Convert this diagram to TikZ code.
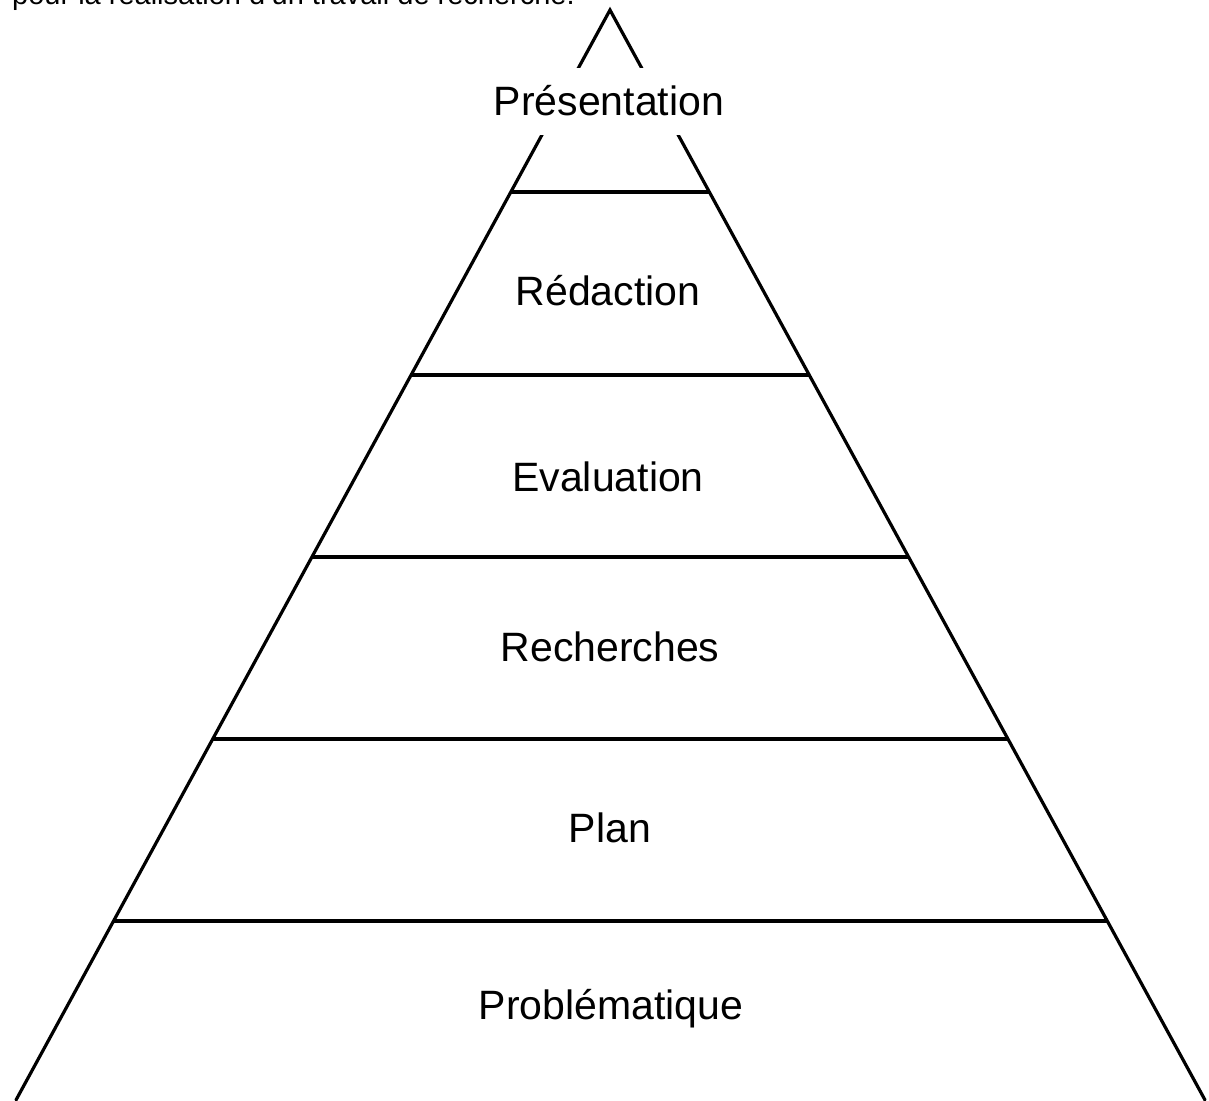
\documentclass[tikz,border=0pt]{standalone}
\usepackage{fontspec}
\setmainfont{Liberation Sans}
\usetikzlibrary{calc}
\begin{document}
\begin{tikzpicture}[x=1pt,y=-1pt,
  side/.style={line width=3.2pt,line cap=round,line join=miter},
  level/.style={line width=3.4pt},
  lab/.style={font=\fontsize{41}{49}\selectfont,anchor=base,inner sep=0pt},
  toplab/.style={lab,fill=white,text height=47pt,text depth=20pt,inner xsep=2pt}]
\useasboundingbox (0,0) rectangle (1209,1100);
% apex and base corners
\coordinate (apex) at (610,10);
\coordinate (bl) at (16,1100);
\coordinate (br) at (1205,1100);
% sides
\draw[side] (bl) -- (apex) -- (br);
% level separators
\foreach \y/\n in {192/a,375/b,557/c,739/d,921/e}{
  \coordinate (L\n) at ($(apex)!{(\y-10)/1090}!(bl)$);
  \coordinate (R\n) at ($(apex)!{(\y-10)/1090}!(br)$);
  \draw[level] (L\n) -- (R\n);
}
% labels
\node[toplab] (pres) at (609,115) {Présentation};
\node[lab] (red) at (608,305) {Rédaction};
\node[lab] (eval) at (608,491) {Evaluation};
\node[lab] (rech) at (610,661) {Recherches};
\node[lab] (plan) at (610,842) {Plan};
\node[lab] (prob) at (611,1019) {Problématique};
% caption cut at the top edge
\node[font=\fontsize{29}{34}\selectfont,anchor=base west,inner sep=0pt] (cap) at (12,5) {pour la réalisation d'un travail de recherche.};
\end{tikzpicture}
\end{document}
